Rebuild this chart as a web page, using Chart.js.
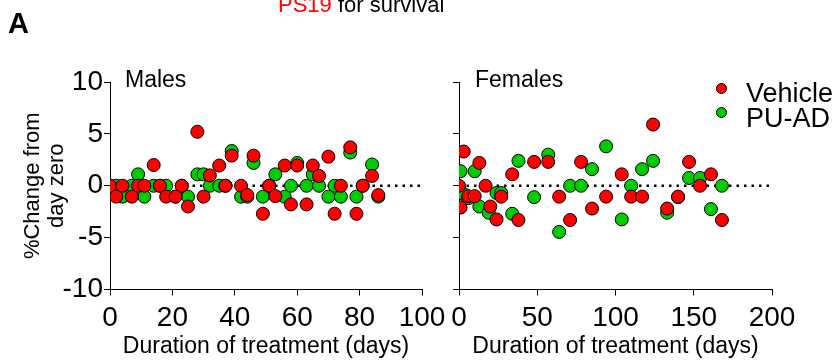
<!DOCTYPE html>
<html>
<head>
<meta charset="utf-8">
<script src="https://cdn.jsdelivr.net/npm/chart.js@4/dist/chart.umd.min.js"></script>
<style>
  body { margin: 0; background: #fff; font-family: "Liberation Sans", Arial, sans-serif; }
  #wrap { position: relative; width: 839px; height: 362px; overflow: hidden; }
  canvas { position: absolute; left: 0; top: 0; }
  .lbl { position: absolute; white-space: nowrap; color: #000; }
  .dot { position: absolute; width: 11px; height: 11px; border-radius: 50%; border: 1px solid #000; box-sizing: border-box; }
</style>
</head>
<body>
<div id="wrap">
  <canvas id="males" width="839" height="362"></canvas>
  <canvas id="females" width="839" height="362"></canvas>
  <div class="lbl" style="left:8px;top:9px;font-size:29px;line-height:29px;font-weight:bold;">A</div>
  <div class="lbl" style="left:278px;top:-6px;font-size:22px;line-height:22px;"><span style="color:#ff0000">PS19</span> for survival</div>
  <div class="lbl" style="left:125px;top:68px;font-size:23px;line-height:23px;">Males</div>
  <div class="lbl" style="left:475px;top:68px;font-size:23px;line-height:23px;">Females</div>
  <div class="dot" style="left:716px;top:83px;background:#ff0000;"></div>
  <div class="dot" style="left:716px;top:107px;background:#00cc00;"></div>
  <div class="lbl" style="left:746px;top:80px;font-size:27px;line-height:27px;">Vehicle</div>
  <div class="lbl" style="left:746px;top:105px;font-size:27px;line-height:27px;">PU-AD</div>
</div>
<script>
const RED = '#ff0000';
const GREEN = '#00cc00';
const FONT = '"Liberation Sans", Arial, sans-serif';

// Males: both groups weighed on the same days
const maleDays = [0, 2, 4, 7, 9, 11, 14, 16, 18, 21, 23, 25, 28, 30, 32, 35, 37, 39, 42,
  44, 46, 49, 51, 53, 56, 58, 60, 63, 65, 67, 70, 72, 74, 77, 79, 81, 84, 86];
const maleVehicle = [0, -1.05, 0, -1.05, 0, 0, 2.0, 0, -1.05, -1.05, 0, -2.0, 5.2, -1.05, 1.0, 1.95, 0, 2.9, 0,
  -0.9, 2.9, -2.7, 0, -1.0, 1.95, -1.8, 1.95, -1.8, 1.95, 0.95, 2.8, -2.7, 0, 3.7, -2.7, 0, 0.95, -0.9];
const malePUAD = [0, 0, -1.05, 0, 1.1, -1.05, 0, 0, 0, -1.05, 0, -1.05, 1.1, 1.1, 0, 0, 0, 3.35, -1.05,
  -1.05, 2.2, -1.05, 0, 1.1, -1.05, 0, 2.2, 0, 1.1, 0, -1.05, 0, -1.05, 3.2, -1.05, 0, 2.05, -1.05];

// Females
const femVehicleDays = [0, 1, 3, 6, 10, 13, 17, 20, 24, 27, 34, 38, 48, 57, 64, 71, 78, 85, 94,
  104, 110, 117, 124, 133, 140, 147, 154, 161, 168];
const femVehicle = [0, -2.1, 3.3, -1.0, -1.0, 2.2, 0, -2.0, -3.25, -1.05, 1.1, -3.3, 2.3, 2.3, -1.05, -3.3, 2.3, -2.2, -1.05,
  1.1, -1.05, -1.05, 5.9, -2.2, -1.05, 2.3, 0, 1.1, -3.3];
const femPUADDays = [1, 3, 6, 10, 13, 19, 24, 27, 34, 38, 48, 57, 64, 71, 78, 85, 94,
  104, 110, 117, 124, 133, 140, 147, 154, 161, 168];
const femPUAD = [1.4, -0.8, -1.2, 1.4, -2.0, -2.6, -0.7, -0.7, -2.7, 2.4, -1.1, 3.0, -4.45, 0, 0, 1.6, 3.8,
  -3.25, 0, 1.6, 2.4, -2.6, -1.1, 0.75, 0.75, -2.25, 0];

const yTicks = [-10, -5, 0, 5, 10];
const maleXTicks = [0, 20, 40, 60, 80, 100];
const femXTicks = [0, 50, 100, 150, 200];

const pts = (xs, ys) => xs.map((x, i) => ({ x: x, y: ys[i] }));

Chart.defaults.font.family = FONT;
Chart.defaults.color = '#000';

function panel(id, p) {
  return new Chart(document.getElementById(id), {
    type: 'scatter',
    data: {
      datasets: [
        { label: 'Vehicle', data: p.red, backgroundColor: RED, borderColor: '#000', borderWidth: 1, pointRadius: 6.5, order: 0 },
        { label: 'PU-AD', data: p.green, backgroundColor: GREEN, borderColor: '#000', borderWidth: 1, pointRadius: 6.5, order: 1 },
        { type: 'line', data: [{ x: p.xTicks[0], y: 0 }, { x: p.xTicks[p.xTicks.length - 1], y: 0 }],
          borderColor: '#000', borderWidth: 2.5, borderDash: [2.5, 5], pointRadius: 0, order: 2 }
      ]
    },
    options: {
      responsive: false, animation: false, devicePixelRatio: 1,
      layout: { padding: { left: p.padL, right: p.padR, top: 82, bottom: 0 } },
      plugins: { legend: { display: false }, tooltip: { enabled: false } },
      scales: {
        x: {
          type: 'linear', min: p.xTicks[0], max: p.xTicks[p.xTicks.length - 1],
          afterBuildTicks: s => { s.ticks = p.xTicks.map(v => ({ value: v })); },
          afterFit: s => { s.height = 72.5; },
          ticks: { font: { size: 28 }, padding: 6, maxRotation: 0, autoSkip: false },
          grid: { drawOnChartArea: false, tickLength: 6, color: '#000' },
          border: { color: '#000' },
          title: { display: true, text: 'Duration of treatment (days)', font: { size: 23 }, padding: { top: 0, bottom: 2 } }
        },
        y: {
          min: -10, max: 10,
          afterBuildTicks: s => { s.ticks = yTicks.map(v => ({ value: v })); },
          afterFit: s => { s.width = p.yW; },
          ticks: { font: { size: 28 }, padding: 1, callback: v => p.yLabels ? v : '' },
          grid: { drawOnChartArea: false, tickLength: 6, color: '#000' },
          border: { color: '#000' },
          title: { display: p.yLabels, text: ['%Change from', 'day zero'], font: { size: 22, lineHeight: 1.1 }, padding: { top: 4, bottom: 0 } }
        }
      }
    }
  });
}

panel('males', { red: pts(maleDays, maleVehicle), green: pts(maleDays, malePUAD), xTicks: maleXTicks,
  padL: 17, yW: 93, padR: 839 - 422, yLabels: true });
panel('females', { red: pts(femVehicleDays, femVehicle), green: pts(femPUADDays, femPUAD), xTicks: femXTicks,
  padL: 400, yW: 59, padR: 839 - 772, yLabels: false });
</script>
</body>
</html>
